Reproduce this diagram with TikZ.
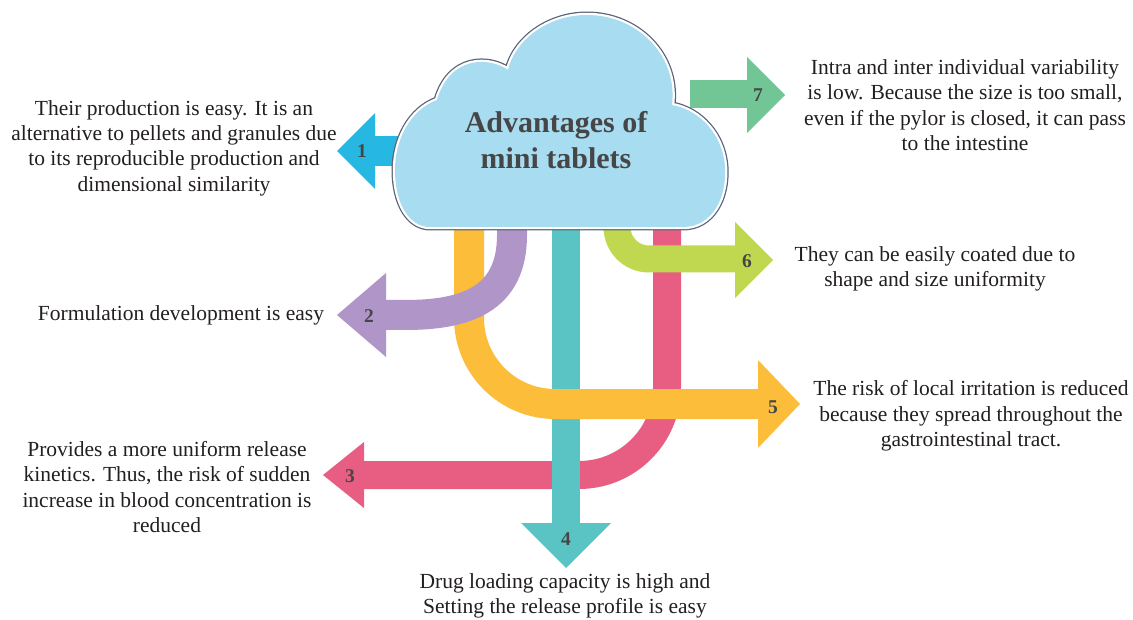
\documentclass[tikz,border=0pt]{standalone}
\usepackage{fontspec}
\setmainfont{Liberation Serif}
\definecolor{c1}{RGB}{38,183,226}
\definecolor{c2}{RGB}{176,150,200}
\definecolor{c3}{RGB}{232,94,130}
\definecolor{c4}{RGB}{90,196,196}
\definecolor{c5}{RGB}{251,189,58}
\definecolor{c6}{RGB}{192,216,80}
\definecolor{c7}{RGB}{114,198,150}
\definecolor{cloudfill}{RGB}{168,220,240}
\definecolor{cloudline}{RGB}{90,100,120}
\definecolor{txtc}{RGB}{35,31,32}
\definecolor{numc}{RGB}{70,70,70}
\begin{document}
\begin{tikzpicture}[x=1pt,y=-1pt,
  txt/.style={align=center, font=\fontsize{21.5}{25.3}\selectfont, text=txtc, inner sep=0pt},
  num/.style={font=\fontsize{19.5}{20}\selectfont\bfseries, text=numc, inner sep=0pt}]
\useasboundingbox[fill=white] (0,0) rectangle (1133,620);

% arrow 3 (pink)
\draw[c3, line width=28, rounded corners=88] (667,210) -- (667,475) -- (364,475);
\fill[c3] (364,442) -- (323,475) -- (364,508) -- cycle;
% arrow 4 (teal)
\draw[c4, line width=28] (566,210) -- (566,524);
\fill[c4] (521,523) -- (566,568) -- (611,523) -- cycle;
% arrow 5 (yellow)
\draw[c5, line width=30, rounded corners=86] (469,210) -- (469,404) -- (759,404);
\fill[c5] (758,360) -- (800,404) -- (758,448) -- cycle;
% arrow 2 (purple)
\draw[c2, line width=30] (512,210) -- (512,235) .. controls (512,300) and (465,315) .. (405,315) -- (386,315);
\fill[c2] (386,273) -- (337,315) -- (386,357) -- cycle;
% arrow 6 (lime)
\draw[c6, line width=27, rounded corners=32] (617,210) -- (617,259) -- (736,259);
\fill[c6] (735,222) -- (773,260) -- (735,298) -- cycle;
% arrow 7 (green)
\draw[c7, line width=28] (690,94) -- (748,94);
\fill[c7] (747,57) -- (785,95) -- (747,133) -- cycle;
% arrow 1 (blue)
\draw[c1, line width=30] (420,151) -- (374,151);
\fill[c1] (375,113) -- (337,151) -- (375,189) -- cycle;

% cloud
\path[preaction={draw=cloudline, line width=7},
      preaction={draw=white, line width=4.5},
      fill=cloudfill]
  (430,227) -- (683,227)
  .. controls (712,227) and (727,198) .. (725,167)
  .. controls (723,135) and (700,110) .. (672,105)
  .. controls (678,55) and (637,15) .. (587,15)
  .. controls (548,15) and (515,40) .. (508,70)
  .. controls (490,57) and (450,55) .. (437,100)
  .. controls (410,110) and (395,140) .. (395,170)
  .. controls (395,205) and (410,227) .. (430,227) -- cycle;
\node[font=\fontsize{30}{36}\selectfont\bfseries, text=numc, align=center, inner sep=0pt] (title) at (556,140) {Advantages of\\mini tablets};

% numbers
\node[num] (n1) at (362,151) {1};
\node[num] (n2) at (369,316) {2};
\node[num] (n3) at (350,476) {3};
\node[num] (n4) at (566,539) {4};
\node[num] (n5) at (773,407) {5};
\node[num] (n6) at (747,261) {6};
\node[num] (n7) at (758,95) {7};

% texts
\node[txt] (t1) at (174,148) {Their production is easy. It is an\\alternative to pellets and granules due\\to its reproducible production and\\dimensional similarity};
\node[txt] (t2) at (181,315) {Formulation development is easy};
\node[txt] (t3) at (167,487) {Provides a more uniform release\\kinetics. Thus, the risk of sudden\\increase in blood concentration is\\reduced};
\node[txt] (t4) at (565,596) {Drug loading capacity is high and\\Setting the release profile is easy};
\node[txt] (t5) at (971,416) {The risk of local irritation is reduced\\because they spread throughout the\\gastrointestinal tract.};
\node[txt] (t6) at (935,269) {They can be easily coated due to\\shape and size uniformity};
\node[txt] (t7) at (965,105) {Intra and inter individual variability\\is low. Because the size is too small,\\even if the pylor is closed, it can pass\\to the intestine};
\end{tikzpicture}
\end{document}
